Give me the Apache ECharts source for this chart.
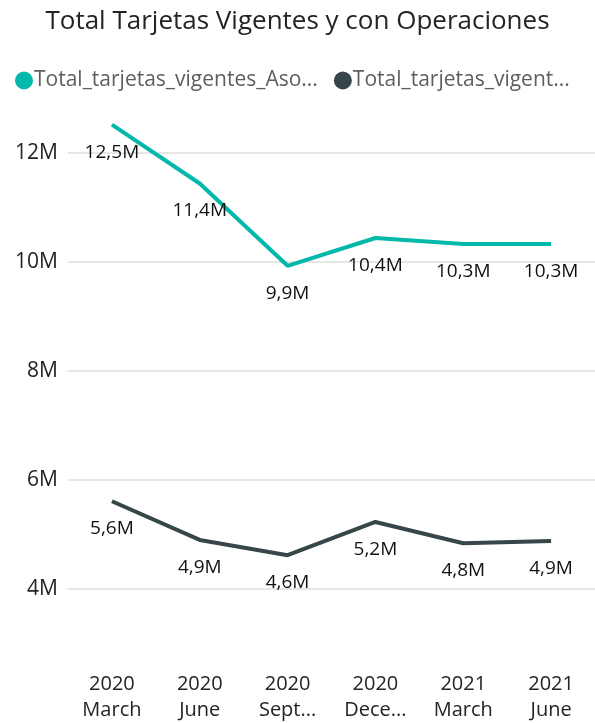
<!DOCTYPE html>
<html>
<head>
<meta charset="utf-8">
<script src="https://cdn.jsdelivr.net/npm/echarts@6/dist/echarts.min.js"></script>
<style>
  html, body { margin: 0; padding: 0; background: #fff; }
  #chart { width: 595px; height: 723px; }
</style>
</head>
<body>
<div id="chart"></div>
<script>
// periods as shown on the axis (Power BI truncates long month names)
const periods = ['2020\nMarch', '2020\nJune', '2020\nSept...', '2020\nDece...', '2021\nMarch', '2021\nJune']
const asociadas = [12.52e6, 11.44e6, 9.93e6, 10.44e6, 10.33e6, 10.33e6]
const conOperaciones = [5.61e6, 4.90e6, 4.62e6, 5.23e6, 4.84e6, 4.88e6]
const seriesNames = ['Total_tarjetas_vigentes_Asociadas', 'Total_tarjetas_vigentes_con_operaciones']
const legendLabels = {
  'Total_tarjetas_vigentes_Asociadas': 'Total_tarjetas_vigentes_Aso...',
  'Total_tarjetas_vigentes_con_operaciones': 'Total_tarjetas_vigent...'
}

const chart = echarts.init(document.getElementById('chart'))
const font = '"Open Sans", "Noto Sans", sans-serif'

const fmtM = v => (v / 1e6).toFixed(1).replace('.', ',') + 'M'

const lineSeries = (name, data, color) => ({
  name: name,
  type: 'line',
  data: data,
  symbol: 'circle',
  symbolSize: 0,
  showSymbol: true,
  lineStyle: { width: 4, color: color },
  itemStyle: { color: color },
  label: {
    show: true,
    position: 'bottom',
    distance: 18,
    fontFamily: font,
    fontSize: 19,
    color: '#111',
    formatter: p => fmtM(p.value)
  }
})

chart.setOption({
  animation: false,
  title: {
    text: 'Total Tarjetas Vigentes y con Operaciones',
    left: 'center',
    top: 4,
    textStyle: { fontFamily: font, fontSize: 26, fontWeight: 'normal', color: '#252423' }
  },
  legend: {
    data: seriesNames,
    left: 10,
    top: 65,
    icon: 'circle',
    itemWidth: 18,
    itemHeight: 18,
    itemGap: 16,
    formatter: name => legendLabels[name],
    textStyle: { fontFamily: font, fontSize: 21, color: '#605E5C', padding: [0, 0, 0, -4] }
  },
  grid: { left: 68, right: 0, top: 98.5, bottom: 25 },
  xAxis: {
    type: 'category',
    data: periods,
    boundaryGap: true,
    axisLine: { show: false },
    axisTick: { show: false },
    axisLabel: {
      margin: -27,
      fontFamily: font,
      fontSize: 20,
      lineHeight: 26,
      color: '#252423',
      interval: 0
    }
  },
  yAxis: {
    type: 'value',
    min: 2e6,
    max: 13e6,
    interval: 2e6,
    axisLine: { show: false },
    axisTick: { show: false },
    axisLabel: {
      margin: 10,
      showMinLabel: false,
      showMaxLabel: false,
      fontFamily: font,
      fontSize: 21,
      color: '#252423',
      formatter: v => (v / 1e6) + 'M'
    },
    splitLine: {
      showMinLine: false,
      showMaxLine: false,
      lineStyle: { color: '#E6E6E6', width: 2 }
    }
  },
  series: [
    lineSeries(seriesNames[0], asociadas, '#01B8AA'),
    lineSeries(seriesNames[1], conOperaciones, '#374649')
  ]
})
</script>
</body>
</html>
